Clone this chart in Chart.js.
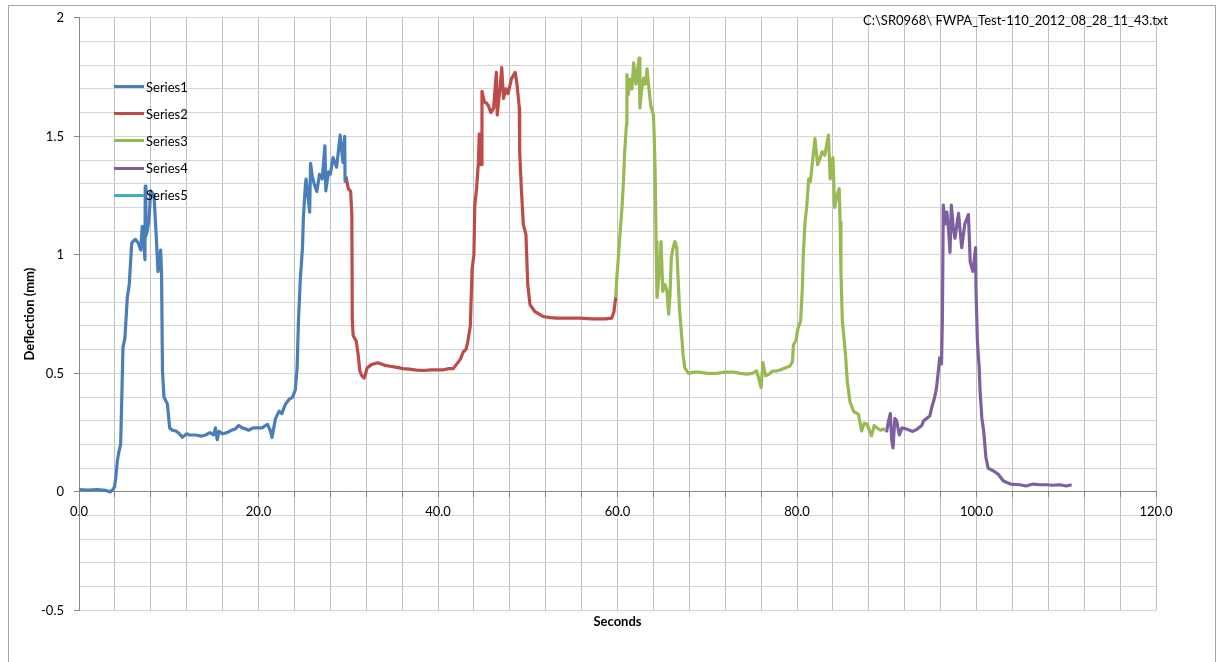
<!DOCTYPE html>
<html><head><meta charset="utf-8">
<script src="https://cdn.jsdelivr.net/npm/chart.js@4.4.0/dist/chart.umd.min.js"></script>
<style>
html,body{margin:0;padding:0;background:#fff;overflow:hidden;}
#wrap{position:relative;width:1218px;height:662px;}
#frame{position:absolute;left:8px;top:5px;width:1206px;height:700px;border:1px solid #a6a6a6;}
canvas{position:absolute;left:0;top:0;}
#fname{position:absolute;right:50px;top:12px;font:13px Lato, sans-serif;color:#000;white-space:nowrap;}
#legend{position:absolute;left:114px;top:73px;font:13px Lato, sans-serif;color:#000;}
.li{display:flex;align-items:center;height:27.2px;}
.li .l{display:inline-block;width:30px;height:3px;margin-right:2px;}
</style>
</head><body>
<div id="wrap">
<div id="frame"></div>
<canvas id="c" width="1218" height="662"></canvas>
<div id="fname"></div>
<div id="legend"></div>
</div>
<script>
const fileTitle = 'C:\\SR0968\\ FWPA_Test-110_2012_08_28_11_43.txt';
const xTitle = 'Seconds';
const yTitle = 'Deflection (mm)';
const seriesNames = ['Series1','Series2','Series3','Series4','Series5'];
const seriesColors = ['#4a7ebb','#be4b48','#98b954','#7d60a0','#46aac5'];

const series1 = [[0,0.01],[1,0.008],[2,0.01],[3,0.006],[3.5,0.0],[3.8,0.012],[3.95,0.02],[4.1,0.06],[4.27,0.13],[4.45,0.17],[4.64,0.20],[4.75,0.37],[4.9,0.61],[5.12,0.65],[5.38,0.82],[5.6,0.875],[5.87,1.05],[6.1,1.06],[6.3,1.065],[6.6,1.05],[6.87,1.02],[7.05,1.12],[7.2,1.05],[7.35,0.98],[7.38,1.29],[7.45,1.08],[7.6,1.10],[7.8,1.15],[7.99,1.27],[8.2,1.26],[8.36,1.25],[8.5,1.15],[8.62,1.07],[8.8,0.93],[9.0,0.98],[9.1,1.02],[9.2,0.92],[9.3,0.51],[9.47,0.40],[9.85,0.37],[10.1,0.27],[10.4,0.26],[10.8,0.257],[11.2,0.245],[11.5,0.23],[12.0,0.245],[12.3,0.24],[13.0,0.24],[13.6,0.235],[14.1,0.24],[14.6,0.25],[15.0,0.24],[15.2,0.27],[15.4,0.22],[15.6,0.255],[16.0,0.245],[16.5,0.25],[17.0,0.26],[17.4,0.265],[17.8,0.28],[18.2,0.27],[18.6,0.265],[18.9,0.26],[19.4,0.27],[19.9,0.27],[20.4,0.27],[20.8,0.28],[21.0,0.285],[21.3,0.26],[21.5,0.23],[21.7,0.27],[21.9,0.31],[22.3,0.34],[22.6,0.33],[23.0,0.37],[23.4,0.39],[23.8,0.40],[24.1,0.43],[24.3,0.52],[24.45,0.72],[24.65,0.89],[24.9,1.03],[25.0,1.155],[25.2,1.28],[25.3,1.32],[25.5,1.25],[25.7,1.18],[25.8,1.386],[26.0,1.33],[26.2,1.30],[26.5,1.267],[26.8,1.34],[27.1,1.32],[27.4,1.46],[27.5,1.27],[27.8,1.35],[28.0,1.34],[28.3,1.41],[28.7,1.37],[29.1,1.505],[29.4,1.39],[29.6,1.50],[29.65,1.31],[29.75,1.33]];

const series2 = [[29.75,1.33],[30.0,1.28],[30.27,1.267],[30.4,1.17],[30.45,0.72],[30.55,0.66],[30.9,0.635],[31.1,0.58],[31.3,0.51],[31.5,0.49],[31.76,0.48],[31.95,0.50],[32.1,0.523],[32.6,0.537],[33.3,0.545],[34.0,0.535],[34.65,0.53],[35.4,0.525],[36.1,0.52],[36.8,0.518],[37.6,0.514],[38.4,0.512],[39.2,0.515],[40.0,0.515],[40.6,0.515],[41.2,0.52],[41.7,0.52],[42.1,0.54],[42.5,0.56],[42.8,0.59],[43.1,0.60],[43.3,0.63],[43.6,0.70],[43.8,0.94],[44.0,1.0],[44.1,1.21],[44.3,1.28],[44.5,1.39],[44.6,1.51],[44.7,1.41],[44.8,1.38],[44.9,1.69],[45.16,1.645],[45.4,1.64],[45.6,1.63],[45.9,1.60],[46.2,1.62],[46.5,1.77],[46.6,1.59],[46.9,1.70],[47.1,1.79],[47.3,1.66],[47.55,1.70],[47.8,1.68],[48.2,1.745],[48.6,1.77],[48.8,1.72],[49.06,1.62],[49.1,1.435],[49.3,1.27],[49.5,1.13],[49.8,1.085],[50.0,0.875],[50.25,0.79],[50.8,0.76],[51.7,0.74],[52.5,0.735],[53.2,0.733],[54.5,0.733],[55.8,0.733],[57.2,0.73],[58.7,0.73],[59.35,0.733],[59.6,0.76],[59.8,0.82]];

const series3 = [[59.8,0.82],[59.9,0.89],[60.1,0.99],[60.3,1.10],[60.5,1.20],[60.65,1.30],[60.8,1.435],[61.0,1.55],[61.05,1.76],[61.2,1.675],[61.4,1.74],[61.6,1.70],[61.8,1.81],[62.06,1.72],[62.4,1.83],[62.5,1.62],[62.7,1.70],[62.9,1.745],[63.1,1.72],[63.3,1.785],[63.4,1.74],[63.7,1.63],[64.0,1.59],[64.1,1.49],[64.2,1.34],[64.3,1.056],[64.4,0.82],[64.7,0.94],[64.85,1.056],[65.05,0.846],[65.3,0.875],[65.5,0.85],[65.7,0.75],[65.85,0.83],[66.0,0.99],[66.2,1.03],[66.4,1.056],[66.6,1.03],[66.9,0.776],[67.2,0.635],[67.3,0.58],[67.5,0.523],[67.9,0.50],[68.5,0.505],[69.1,0.505],[70.0,0.50],[71.05,0.50],[72.0,0.505],[72.9,0.505],[73.7,0.50],[74.4,0.497],[75.0,0.50],[75.5,0.51],[75.8,0.47],[76.0,0.44],[76.2,0.545],[76.5,0.49],[76.9,0.497],[77.3,0.51],[77.7,0.51],[78.2,0.515],[78.8,0.525],[79.2,0.53],[79.5,0.55],[79.6,0.62],[79.9,0.64],[80.1,0.69],[80.4,0.72],[80.6,0.86],[80.7,1.0],[80.9,1.14],[81.1,1.21],[81.3,1.32],[81.5,1.31],[81.8,1.42],[82.0,1.49],[82.3,1.38],[82.5,1.40],[82.8,1.435],[83.1,1.42],[83.5,1.505],[83.7,1.32],[84.0,1.41],[84.2,1.20],[84.4,1.24],[84.7,1.28],[84.8,1.14],[84.9,0.93],[85.05,0.72],[85.16,0.68],[85.4,0.58],[85.6,0.467],[85.9,0.38],[86.3,0.34],[86.85,0.327],[87.2,0.257],[87.5,0.29],[87.8,0.285],[88.3,0.236],[88.6,0.28],[88.9,0.27],[89.3,0.26],[89.6,0.265],[89.9,0.26]];

const series4 = [[89.9,0.26],[90.0,0.257],[90.2,0.30],[90.4,0.33],[90.55,0.22],[90.7,0.186],[90.9,0.31],[91.1,0.30],[91.4,0.24],[91.7,0.27],[92.2,0.265],[92.9,0.255],[93.4,0.265],[93.9,0.28],[94.1,0.30],[94.45,0.31],[94.8,0.32],[95.0,0.355],[95.2,0.38],[95.4,0.41],[95.55,0.44],[95.75,0.51],[95.9,0.565],[96.1,0.54],[96.2,0.73],[96.3,1.21],[96.5,1.13],[96.7,1.18],[96.9,1.10],[97.05,1.01],[97.2,1.21],[97.4,1.12],[97.6,1.07],[98.0,1.175],[98.35,1.03],[98.7,1.13],[99.1,1.17],[99.3,0.97],[99.6,0.93],[99.9,1.03],[99.95,0.846],[100.1,0.635],[100.3,0.523],[100.4,0.425],[100.6,0.31],[100.8,0.257],[101.05,0.145],[101.3,0.10],[101.9,0.088],[102.4,0.075],[103.0,0.046],[103.8,0.033],[104.85,0.03],[105.5,0.025],[106.3,0.033],[107.0,0.03],[107.8,0.03],[108.5,0.028],[109.3,0.03],[110.0,0.025],[110.6,0.03]];

const series5 = [];

const xMin = 0, xMax = 120, xStep = 4, xLabelEvery = 20;
const yMin = -0.5, yMax = 2, yStep = 0.1, yLabelEvery = 0.5;

const allSeries = [series1, series2, series3, series4, series5];

Chart.defaults.font.family = 'Lato, sans-serif';
Chart.defaults.color = '#000';

const isMajorY = v => Math.abs(v / yLabelEvery - Math.round(v / yLabelEvery)) < 1e-6;

new Chart(document.getElementById('c'), {
  type: 'line',
  data: {
    datasets: allSeries.map((s, i) => ({
      label: seriesNames[i],
      data: s.map(p => ({x: p[0], y: p[1]})),
      borderColor: seriesColors[i],
      backgroundColor: seriesColors[i],
      borderWidth: 3.2,
      borderJoinStyle: 'round',
      pointRadius: 0,
      tension: 0,
      fill: false,
      xAxisID: 'x',
      yAxisID: 'y'
    }))
  },
  options: {
    responsive: false,
    animation: false,
    events: [],
    layout: {padding: {left: 22, top: 16, right: 62, bottom: 32}},
    plugins: {legend: {display: false}, tooltip: {enabled: false}, title: {display: false}},
    scales: {
      x: {
        type: 'linear',
        position: {y: 0},
        min: xMin, max: xMax,
        grid: {color: '#c0c0c0', lineWidth: 1, tickLength: 5, tickColor: '#868686', drawTicks: true},
        border: {display: true, color: '#868686', width: 1},
        ticks: {
          stepSize: xStep, autoSkip: false, maxRotation: 0, minRotation: 0, padding: 7,
          font: {size: 13},
          callback: v => (v % xLabelEvery === 0 ? v.toFixed(1) : '')
        }
      },
      x2: {
        type: 'linear',
        position: 'bottom',
        min: xMin, max: xMax,
        grid: {display: false, drawTicks: false},
        border: {display: false},
        ticks: {display: false},
        title: {display: true, text: xTitle, font: {size: 13, weight: 'bold'}, padding: {top: 4, bottom: 0}}
      },
      y: {
        type: 'linear',
        position: 'left',
        min: yMin, max: yMax,
        afterFit: s => { s.width = 57; },
        grid: {
          color: '#d6d6d6', lineWidth: 1, tickLength: 5,
          tickColor: ctx => (ctx.tick && isMajorY(ctx.tick.value) ? '#868686' : 'rgba(0,0,0,0)')
        },
        border: {display: true, color: '#868686', width: 1},
        ticks: {
          stepSize: yStep, autoSkip: false, maxTicksLimit: 100, padding: 10,
          font: {size: 13},
          callback: v => (isMajorY(v) ? String(Math.round(v * 10) / 10) : '')
        },
        title: {display: true, text: yTitle, font: {size: 13, weight: 'bold'}, padding: {top: 0, bottom: 0}}
      }
    }
  }
});

document.getElementById('fname').textContent = fileTitle;
const lg = document.getElementById('legend');
seriesNames.forEach((n, i) => {
  const row = document.createElement('div');
  row.className = 'li';
  const l = document.createElement('span');
  l.className = 'l';
  l.style.background = seriesColors[i];
  const t = document.createElement('span');
  t.textContent = n;
  row.appendChild(l); row.appendChild(t);
  lg.appendChild(row);
});
</script>
</body></html>
